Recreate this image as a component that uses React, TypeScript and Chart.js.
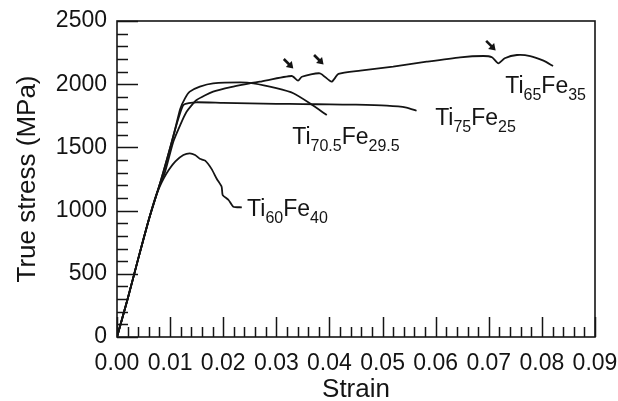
import React, { useEffect, useRef } from "react";
import { Chart, registerables } from "chart.js";

Chart.register(...registerables);

// ---- data (strain, true stress in MPa) ----
const ti75Strain = [0, 0.002, 0.004, 0.006, 0.008, 0.0095, 0.0108, 0.0118, 0.0125, 0.0135, 0.015, 0.02, 0.025, 0.03, 0.035, 0.04, 0.045, 0.0508, 0.0545, 0.0564];
const ti75Stress = [0, 300, 620, 930, 1200, 1420, 1620, 1760, 1835, 1850, 1857, 1852, 1848, 1845, 1843, 1840, 1838, 1830, 1815, 1790];

const ti705Strain = [0, 0.002, 0.004, 0.006, 0.008, 0.0095, 0.0108, 0.0119, 0.0128, 0.0137, 0.0156, 0.0181, 0.0232, 0.0257, 0.03, 0.0332, 0.0363, 0.0395];
const ti705Stress = [0, 300, 620, 930, 1200, 1420, 1620, 1804, 1888, 1941, 1981, 2007, 2015, 2007, 1968, 1928, 1849, 1756];

const ti65Strain = [0, 0.002, 0.004, 0.006, 0.008, 0.009, 0.0106, 0.0119, 0.0131, 0.015, 0.0181, 0.0219, 0.025, 0.0269, 0.0329, 0.0341, 0.0348, 0.0382, 0.0404, 0.0417, 0.0458, 0.052, 0.0583, 0.0646, 0.069, 0.0706, 0.0718, 0.073, 0.0753, 0.0778, 0.0803, 0.0821];
const ti65Stress = [0, 300, 620, 930, 1200, 1300, 1545, 1677, 1782, 1875, 1941, 1981, 2007, 2020, 2065, 2028, 2059, 2086, 2020, 2081, 2107, 2139, 2178, 2213, 2223, 2213, 2165, 2205, 2231, 2223, 2186, 2144];

const ti60Strain = [0, 0.002, 0.004, 0.006, 0.0072, 0.008, 0.0088, 0.0098, 0.011, 0.0125, 0.0137, 0.0147, 0.0156, 0.0166, 0.0178, 0.0188, 0.0197, 0.0199, 0.021, 0.0219, 0.0235];
const ti60Stress = [0, 300, 620, 930, 1100, 1185, 1255, 1325, 1390, 1440, 1453, 1440, 1410, 1395, 1330, 1250, 1189, 1123, 1084, 1031, 1026];

// tick values
const xTickValues = [0, 0.01, 0.02, 0.03, 0.04, 0.05, 0.06, 0.07, 0.08, 0.09];
const yTickValues = [0, 500, 1000, 1500, 2000, 2500];

// arrow tips (strain, stress)
const arrowStrain = [0.0331, 0.0388, 0.0712];
const arrowStress = [2128, 2160, 2271];

// curve labels: [main, sub, main, sub]
const labelParts = [
  ["Ti", "65", "Fe", "35"],
  ["Ti", "75", "Fe", "25"],
  ["Ti", "70.5", "Fe", "29.5"],
  ["Ti", "60", "Fe", "40"],
];
const labelStrain = [0.0731, 0.0599, 0.033, 0.0245];
const labelStress = [1930, 1677, 1524, 955];

const FONT = "'Liberation Sans', Arial, Helvetica, sans-serif";
const INK = "#141414";

export default function App() {
  const ref = useRef<HTMLCanvasElement | null>(null);

  useEffect(() => {
    document.body.style.margin = "0";
    const canvas = ref.current!;
    const mk = (xs: number[], ys: number[]) => xs.map((x, i) => ({ x, y: ys[i] }));
    const ds = (label: string, xs: number[], ys: number[]) => ({
      label,
      data: mk(xs, ys),
      borderColor: INK,
      backgroundColor: INK,
      borderWidth: 1.8,
      pointRadius: 0,
      showLine: true,
      fill: false,
      tension: 0.2,
    });

    const decor = {
      id: "decor",
      afterDraw(chart: any) {
        const { ctx, chartArea } = chart;
        const xs = chart.scales.x;
        const ys = chart.scales.y;
        const { left, right, top, bottom } = chartArea;
        ctx.save();
        ctx.strokeStyle = INK;
        ctx.fillStyle = INK;
        ctx.lineWidth = 1.6;
        ctx.strokeRect(left, top, right - left, bottom - top);
        ctx.lineWidth = 1.5;
        ctx.beginPath();
        for (let v = 0; v <= 2500; v += 100) {
          const y = Math.round(ys.getPixelForValue(v)) + 0.5;
          const len = v % 500 === 0 ? 21 : 11;
          ctx.moveTo(left, y);
          ctx.lineTo(left + len, y);
        }
        for (let i = 0; i <= 45; i++) {
          const x = Math.round(xs.getPixelForValue(i * 0.002)) + 0.5;
          const len = i % 5 === 0 ? 20 : 10;
          ctx.moveTo(x, bottom);
          ctx.lineTo(x, bottom - len);
        }
        ctx.stroke();

        // axis titles
        ctx.font = `26px ${FONT}`;
        ctx.textAlign = "center";
        ctx.textBaseline = "alphabetic";
        ctx.fillText("Strain", (left + right) / 2, 397);
        ctx.save();
        ctx.translate(35, (top + bottom) / 2);
        ctx.rotate(-Math.PI / 2);
        ctx.fillText("True stress (MPa)", 0, 0);
        ctx.restore();

        // curve labels
        ctx.textAlign = "left";
        labelParts.forEach((parts, k) => {
          let x = xs.getPixelForValue(labelStrain[k]);
          const y = ys.getPixelForValue(labelStress[k]);
          parts.forEach((p, j) => {
            const sub = j % 2 === 1;
            ctx.font = sub ? `16px ${FONT}` : `23px ${FONT}`;
            ctx.fillText(p, x, sub ? y + 7 : y);
            x += ctx.measureText(p).width;
          });
        });

        // arrows
        arrowStrain.forEach((s, k) => {
          const tx = xs.getPixelForValue(s);
          const ty = ys.getPixelForValue(arrowStress[k]);
          ctx.lineWidth = 2.6;
          ctx.beginPath();
          ctx.moveTo(tx - 9, ty - 9);
          ctx.lineTo(tx - 2, ty - 2);
          ctx.stroke();
          ctx.beginPath();
          ctx.moveTo(tx + 0.5, ty + 0.5);
          ctx.lineTo(tx - 7, ty - 1);
          ctx.lineTo(tx - 1, ty - 7);
          ctx.closePath();
          ctx.fill();
        });
        ctx.restore();
      },
    };

    const chart = new Chart(canvas, {
      type: "scatter",
      data: {
        datasets: [
          ds("Ti65Fe35", ti65Strain, ti65Stress),
          ds("Ti75Fe25", ti75Strain, ti75Stress),
          ds("Ti70.5Fe29.5", ti705Strain, ti705Stress),
          ds("Ti60Fe40", ti60Strain, ti60Stress),
        ] as any,
      },
      options: {
        animation: false,
        responsive: false,
        devicePixelRatio: 1,
        layout: { padding: { left: 0, right: 23, top: 21, bottom: 0 } },
        plugins: { legend: { display: false }, tooltip: { enabled: false } },
        scales: {
          x: {
            type: "linear",
            min: 0,
            max: 0.09,
            grid: { display: false, drawTicks: false },
            border: { display: false },
            afterBuildTicks: (s: any) => {
              s.ticks = xTickValues.map((v) => ({ value: v }));
            },
            ticks: {
              autoSkip: false,
              maxRotation: 0,
              padding: 13,
              color: INK,
              font: { family: FONT, size: 23 },
              callback: (v: any) => Number(v).toFixed(2),
            },
            afterFit: (s: any) => {
              s.height = 64;
              s.paddingLeft = 0;
              s.paddingRight = 0;
            },
          },
          y: {
            type: "linear",
            min: 0,
            max: 2500,
            grid: { display: false, drawTicks: false },
            border: { display: false },
            afterBuildTicks: (s: any) => {
              s.ticks = yTickValues.map((v) => ({ value: v }));
            },
            ticks: {
              padding: 10,
              color: INK,
              font: { family: FONT, size: 23 },
              callback: (v: any) => String(v),
            },
            afterFit: (s: any) => {
              s.width = 117;
              s.paddingTop = 0;
              s.paddingBottom = 0;
            },
          },
        },
      } as any,
      plugins: [decor],
    });
    return () => chart.destroy();
  }, []);

  return <canvas ref={ref} width={618} height={401} style={{ display: "block" }} />;
}
